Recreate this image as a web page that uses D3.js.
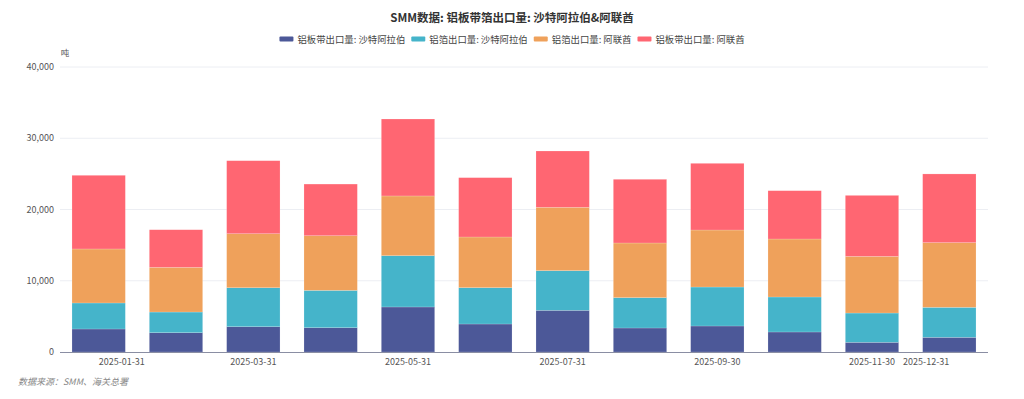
<!DOCTYPE html>
<html>
<head>
<meta charset="utf-8">
<script src="https://cdn.jsdelivr.net/npm/d3@7"></script>
<style>
  body { margin: 0; background: #fff; }
  text { font-family: "Noto Sans CJK SC", "Noto Sans", sans-serif; }
</style>
</head>
<body>
<script>
// data (tonnes)
var months = ["2025-01-31", "2025-02-28", "2025-03-31", "2025-04-30", "2025-05-31", "2025-06-30",
              "2025-07-31", "2025-08-31", "2025-09-30", "2025-10-31", "2025-11-30", "2025-12-31"];
var tickLabels = ["2025-01-31", "2025-03-31", "2025-05-31", "2025-07-31", "2025-09-30", "2025-11-30", "2025-12-31"];
var seriesNames = ["铝板带出口量: 沙特阿拉伯", "铝箔出口量: 沙特阿拉伯", "铝箔出口量: 阿联酋", "铝板带出口量: 阿联酋"];
var sheetSaudi = [3230, 2710, 3550, 3410, 6320, 3930, 5850, 3370, 3650, 2810, 1360, 2060];
var foilSaudi  = [3650, 2900, 5470, 5240, 7200, 5100, 5570, 4260, 5470, 4910, 4110, 4210];
var foilUAE    = [7580, 6270, 7580, 7670, 8380, 7110, 8890, 7670, 8000, 8140, 7950, 9080];
var sheetUAE   = [10340, 5280, 10250, 7250, 10800, 8330, 7900, 8940, 9360, 6780, 8560, 9640];
var yTicks = [0, 10000, 20000, 30000, 40000];
var colors = ["#4c5898", "#45b4ca", "#efa15b", "#ff6672"];

var width = 1024, height = 399;
var margin = {left: 60, right: 36, top: 67, bottom: 47};

var svg = d3.select("body").append("svg").attr("width", width).attr("height", height);

var x = d3.scaleBand()
    .domain(months)
    .range([margin.left, width - margin.right])
    .paddingInner(0.31)
    .paddingOuter(0.155);

var y = d3.scaleLinear()
    .domain([0, 40000])
    .range([height - margin.bottom, margin.top]);

// title
svg.append("text")
    .attr("x", 512).attr("y", 22)
    .attr("text-anchor", "middle")
    .style("font-size", "11.5px").style("font-weight", "bold").style("fill", "#333")
    .text("SMM数据: 铝板带箔出口量: 沙特阿拉伯&阿联酋");

// legend, laid out from measured text widths and centred
var legendG = svg.append("g");
var legend = legendG.selectAll("g").data(seriesNames).enter().append("g");
legend.append("rect")
    .attr("x", 0).attr("y", -2.5).attr("width", 14).attr("height", 5).attr("rx", 1)
    .attr("fill", function(d, i) { return colors[i]; });
legend.append("text")
    .attr("x", 18).attr("y", 3.5)
    .style("font-size", "9.4px").style("fill", "#444")
    .text(function(d) { return d; });
var cursor = 0;
legend.each(function() {
    var w = 18 + d3.select(this).select("text").node().getComputedTextLength();
    d3.select(this).attr("transform", "translate(" + cursor + ",39)");
    cursor += w + 6;
});
legendG.attr("transform", "translate(" + (512 - (cursor - 6) / 2) + ",0)");

// grid
svg.append("g").selectAll("line").data(yTicks.slice(1)).enter().append("line")
    .attr("x1", margin.left).attr("x2", width - margin.right)
    .attr("y1", function(d) { return y(d); }).attr("y2", function(d) { return y(d); })
    .attr("stroke", "#eceef3").attr("stroke-width", 1);

// y axis labels
svg.append("g").selectAll("text").data(yTicks).enter().append("text")
    .attr("x", margin.left - 6).attr("y", function(d) { return y(d) + 3; })
    .attr("text-anchor", "end")
    .style("font-size", "9px").style("fill", "#555")
    .text(function(d) { return d3.format(",")(d); });

svg.append("text")
    .attr("x", 65).attr("y", 56)
    .attr("text-anchor", "middle")
    .style("font-size", "8.5px").style("fill", "#555")
    .text("吨");

// stacked bars
var table = months.map(function(m, i) {
    return {month: m, s0: sheetSaudi[i], s1: foilSaudi[i], s2: foilUAE[i], s3: sheetUAE[i]};
});
var stack = d3.stack().keys(["s0", "s1", "s2", "s3"]);
var layers = stack(table);

svg.append("g").selectAll("g").data(layers).enter().append("g")
    .attr("fill", function(d, i) { return colors[i]; })
    .selectAll("rect").data(function(d) { return d; }).enter().append("rect")
    .attr("x", function(d) { return x(d.data.month); })
    .attr("width", x.bandwidth())
    .attr("y", function(d) { return y(d[1]); })
    .attr("height", function(d) { return y(d[0]) - y(d[1]); })
    .attr("stroke", "#fff").attr("stroke-opacity", 0.35).attr("stroke-width", 0.5);

// x axis
svg.append("line")
    .attr("x1", margin.left).attr("x2", width - margin.right)
    .attr("y1", y(0) + 0.5).attr("y2", y(0) + 0.5)
    .attr("stroke", "#8a8ea3").attr("stroke-width", 1);

svg.append("g").selectAll("text").data(tickLabels).enter().append("text")
    .attr("x", function(d) { return x(d) + x.bandwidth() / 2; })
    .attr("y", y(0) + 13)
    .attr("text-anchor", function(d, i) {
        if (i === 0) return "start";
        if (i === tickLabels.length - 1) return "end";
        return "middle";
    })
    .style("font-size", "9px").style("fill", "#555")
    .text(function(d) { return d; });

// source
svg.append("text")
    .attr("x", 18).attr("y", 385)
    .style("font-size", "9px").style("font-style", "italic").style("fill", "#888")
    .text("数据来源：SMM、海关总署");
</script>
</body>
</html>
